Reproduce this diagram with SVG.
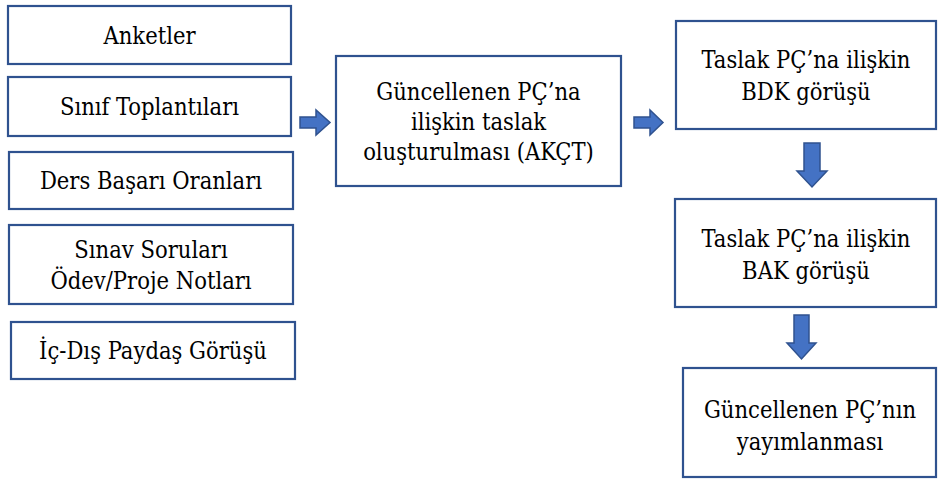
<svg xmlns="http://www.w3.org/2000/svg" width="939" height="479" viewBox="0 0 939 479">
<style>
.box{fill:#fff;stroke:#2F528F;stroke-width:2.2}
.t{font-family:'DejaVu Serif Condensed','DejaVu Serif',serif;font-stretch:condensed;font-size:23.5px;fill:#000;text-anchor:middle}
.arr{fill:#4472C4;stroke:#2F528F;stroke-width:1.5}
</style>
<rect width="939" height="479" fill="#fff"/>
<g id="n1"><rect class="box" x="8" y="6" width="283" height="58"/><text class="t" x="149.5" y="44">Anketler</text></g>
<g id="n2"><rect class="box" x="8" y="77" width="283" height="59"/><text class="t" x="149.5" y="115">Sınıf Toplantıları</text></g>
<g id="n3"><rect class="box" x="9" y="152" width="284" height="57"/><text class="t" x="151" y="189">Ders Başarı Oranları</text></g>
<g id="n4"><rect class="box" x="9" y="225" width="284" height="79"/><text class="t" x="151" y="258">Sınav Soruları</text><text class="t" x="151" y="289">Ödev/Proje Notları</text></g>
<g id="n5"><rect class="box" x="11" y="322" width="284" height="57"/><text class="t" x="153" y="359">İç-Dış Paydaş Görüşü</text></g>
<g id="n6"><rect class="box" x="336" y="56" width="285" height="130"/><text class="t" x="478.5" y="100">Güncellenen PÇ’na</text><text class="t" x="478.5" y="130">ilişkin taslak</text><text class="t" x="478.5" y="160">oluşturulması (AKÇT)</text></g>
<g id="n7"><rect class="box" x="676" y="21" width="260" height="108"/><text class="t" x="806" y="68">Taslak PÇ’na ilişkin</text><text class="t" x="806" y="100">BDK görüşü</text></g>
<g id="n8"><rect class="box" x="675" y="199" width="261" height="108"/><text class="t" x="806" y="247">Taslak PÇ’na ilişkin</text><text class="t" x="806" y="279">BAK görüşü</text></g>
<g id="n9"><rect class="box" x="683" y="368" width="253" height="109"/><text class="t" x="810" y="418">Güncellenen PÇ’nın</text><text class="t" x="810" y="450">yayımlanması</text></g>
<g id="connectors">
<path class="arr" d="M300,117 H316 V110 L330,122.5 L316,135 V128 H300 Z"/>
<path class="arr" d="M634,117 H650 V110 L663,122.5 L650,135 V128 H634 Z"/>
<path class="arr" d="M804,143 H820 V171 H827 L812,187 L797,171 H804 Z"/>
<path class="arr" d="M794,315 H809 V343 H816 L801.5,359 L787,343 H794 Z"/>
</g>
</svg>
